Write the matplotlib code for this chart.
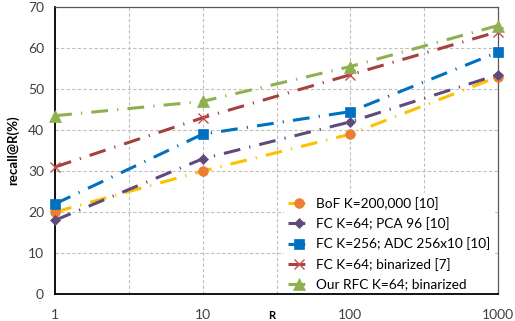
import matplotlib.pyplot as plt
from matplotlib.legend_handler import HandlerLine2D

plt.rcParams['font.family'] = ['Lato', 'DejaVu Sans']

# data
r_values = [1, 10, 100, 1000]
bof = [20, 30, 39, 53]
fc_pca = [18, 33, 42, 53.5]
fc_adc = [22, 39, 44.5, 59]
fc_bin = [31, 43, 53.5, 64]
rfc_bin = [43.5, 47, 55.5, 65.5]

labels = ['BoF K=200,000 [10]', 'FC K=64; PCA 96 [10]',
          'FC K=256; ADC 256x10 [10]', 'FC K=64; binarized [7]',
          'Our RFC K=64; binarized']
y_ticks = [0, 10, 20, 30, 40, 50, 60, 70]
x_ticks = [1, 10 ** 0.5, 10, 10 ** 1.5, 100, 10 ** 2.5, 1000]
x_ticklabels = ['1', '', '10', '', '100', '', '1000']


class EndMarkerHandler(HandlerLine2D):
    # marker sits at the right end of the legend line, like Excel
    def get_xdata(self, legend, xdescent, ydescent, width, height, fontsize):
        xdata, _ = super().get_xdata(legend, xdescent, ydescent, width, height, fontsize)
        return xdata, [xdata[-1]]


fig = plt.figure(figsize=(5.15, 3.21), dpi=100)
ax = fig.add_axes([0.107, 0.084, 0.86, 0.894])

dash = (0, (5.5, 3, 0.4, 3))
series = [
    (bof, '#FFC000', 'o', '#ED7D31', 7),
    (fc_pca, '#604A7B', 'D', '#604A7B', 5.5),
    (fc_adc, '#0070C0', 's', '#0070C0', 6.5),
    (fc_bin, '#A5423F', 'x', '#C0504D', 6.5),
    (rfc_bin, '#8FB04F', '^', '#8FB04F', 8),
]
handles = []
for (vals, col, mk, mcol, ms), lab in zip(series, labels):
    h, = ax.plot(r_values, vals, color=col, lw=2.2, linestyle=dash,
                 marker=mk, markersize=ms, markerfacecolor=mcol,
                 markeredgecolor=mcol, markeredgewidth=1.0 if mk == 'x' else 0.5,
                 label=lab, clip_on=False, zorder=3)
    handles.append(h)

ax.set_xscale('log')
ax.set_xlim(1, 1000)
ax.set_ylim(0, 70)
ax.set_xticks(x_ticks)
ax.set_xticklabels(x_ticklabels)
ax.xaxis.set_minor_locator(plt.NullLocator())
ax.set_yticks(y_ticks)
ax.tick_params(axis='both', length=0, labelsize=10, colors='#404040')
ax.tick_params(axis='x', pad=11)
ax.tick_params(axis='y', pad=8)
ax.grid(True, color='#BFBFBF', linestyle=(0, (3, 2)), linewidth=0.8)

for s in ['left', 'bottom']:
    ax.spines[s].set_color('black')
    ax.spines[s].set_linewidth(1.3)
for s in ['top', 'right']:
    ax.spines[s].set_color('#595959')
    ax.spines[s].set_linewidth(0.9)

ax.set_xlabel('R', fontsize=8, fontweight='bold')
ax.xaxis.set_label_coords(0.49, -0.055)
ax.set_ylabel('recall@R(%)', fontsize=9.5, fontweight='bold')
ax.yaxis.set_label_coords(-0.08, 0.5)

leg = ax.legend(handles=handles, loc='lower left', bbox_to_anchor=(0.502, -0.025),
                fontsize=9.8, frameon=True, facecolor='white', edgecolor='white',
                framealpha=1, handlelength=1.5, handletextpad=0.5, labelspacing=0.55,
                borderpad=0.3,
                handler_map={h: EndMarkerHandler(numpoints=1) for h in handles})
leg.set_zorder(2.4)  # keep the bottom spine visible over the legend box

plt.savefig('out.png', dpi=100)
